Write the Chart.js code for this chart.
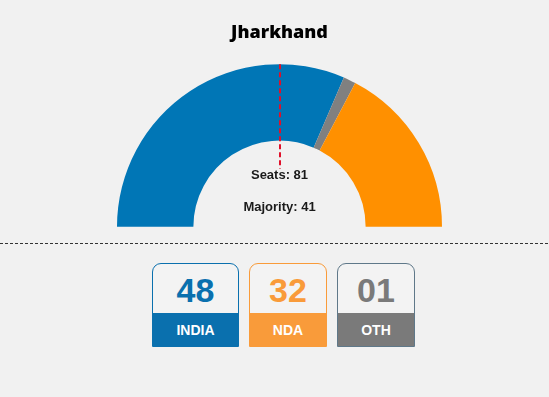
<!DOCTYPE html>
<html>
<head>
<meta charset="utf-8">
<script src="https://cdn.jsdelivr.net/npm/chart.js@4/dist/chart.umd.min.js"></script>
<style>
  html, body { margin: 0; padding: 0; background: #f1f1f1; }
  #wrap { position: relative; width: 549px; height: 397px; overflow: hidden; font-family: "Liberation Sans", Arial, sans-serif; }
  #arcChart { position: absolute; left: 0; top: 0; }
  .sep { position: absolute; left: 0; top: 243px; width: 549px; height: 1px;
    background: repeating-linear-gradient(to right, #333 0 3px, transparent 3px 5px); }
  #tally { position: absolute; top: 263px; left: 152px; display: flex; gap: 10px; }
  .box { box-sizing: border-box; height: 84px; border: 1px solid; border-radius: 9px 9px 0 0; overflow: hidden; background: #f3f3f3; }
  .box .num { height: 49px; line-height: 52px; text-align: center; font-weight: bold; font-size: 34px; }
  .box .lbl { height: 34px; line-height: 34px; text-align: center; font-weight: bold; font-size: 14px; color: #fff; }
</style>
</head>
<body>
<div id="wrap">
  <canvas id="arcChart" width="549" height="240"></canvas>
  <div class="sep"></div>
  <div id="tally"></div>
</div>
<script>
// Jharkhand - seats
const stateName = 'Jharkhand';
const totalSeats = 81;
const majority = 41;

// arc segments (as drawn, left to right)
const arcLabels = ['INDIA', 'OTH', 'NDA'];
const arcSeats = [51, 2, 28];
const arcColors = ['#0076b6', '#808080', '#ff9000'];

// tally boxes
const tallyLabels = ['INDIA', 'NDA', 'OTH'];
const tallySeats = [48, 32, 1];
const tallyColors = ['#0a70ae', '#f99b3a', '#7a7a7a'];
const tallyBorders = ['#0a70ae', '#f99b3a', '#5f7889'];
const tallyWidths = [87, 78, 78];

// majority line + centre text
const centreText = {
  id: 'centreText',
  afterDatasetsDraw(chart) {
    const arc = chart.getDatasetMeta(0).data[0];
    if (!arc) return;
    const { x, y, outerRadius } = arc.getProps(['x', 'y', 'outerRadius'], true);
    const c = chart.ctx;
    const lx = Math.round(x);
    c.save();
    c.strokeStyle = '#e0102a';
    c.lineWidth = 2;
    c.setLineDash([5, 3]);
    c.beginPath();
    c.moveTo(lx, y - outerRadius);
    c.lineTo(lx, y - 58);
    c.stroke();
    c.setLineDash([]);
    c.fillStyle = '#1a1a1a';
    c.font = 'bold 13px "Liberation Sans", Arial, sans-serif';
    c.textAlign = 'center';
    c.textBaseline = 'middle';
    c.fillText('Seats: ' + totalSeats, x, y - 51);
    c.fillText('Majority: ' + majority, x, y - 19.5);
    c.restore();
  }
};

const ctx = document.getElementById('arcChart').getContext('2d');
new Chart(ctx, {
  type: 'doughnut',
  data: {
    labels: arcLabels,
    datasets: [{
      data: arcSeats,
      backgroundColor: arcColors,
      borderWidth: 0
    }]
  },
  options: {
    responsive: false,
    animation: false,
    rotation: -90,
    circumference: 180,
    cutout: '53%',
    layout: { padding: { left: 117, right: 107, top: 0, bottom: 13 } },
    plugins: {
      legend: { display: false },
      tooltip: { enabled: false },
      title: {
        display: true,
        text: stateName,
        color: '#000',
        font: { family: '"Open Sans", sans-serif', size: 18, weight: 800, lineHeight: 1.2 },
        padding: { top: 22, bottom: 20.4 }
      }
    }
  },
  plugins: [centreText]
});

const tally = document.getElementById('tally');
tallyLabels.forEach((name, i) => {
  const box = document.createElement('div');
  box.className = 'box';
  box.style.width = tallyWidths[i] + 'px';
  box.style.borderColor = tallyBorders[i];
  const num = document.createElement('div');
  num.className = 'num';
  num.style.color = tallyColors[i];
  num.textContent = String(tallySeats[i]).padStart(2, '0');
  const lbl = document.createElement('div');
  lbl.className = 'lbl';
  lbl.style.background = tallyColors[i];
  lbl.textContent = name;
  box.appendChild(num);
  box.appendChild(lbl);
  tally.appendChild(box);
});
</script>
</body>
</html>
